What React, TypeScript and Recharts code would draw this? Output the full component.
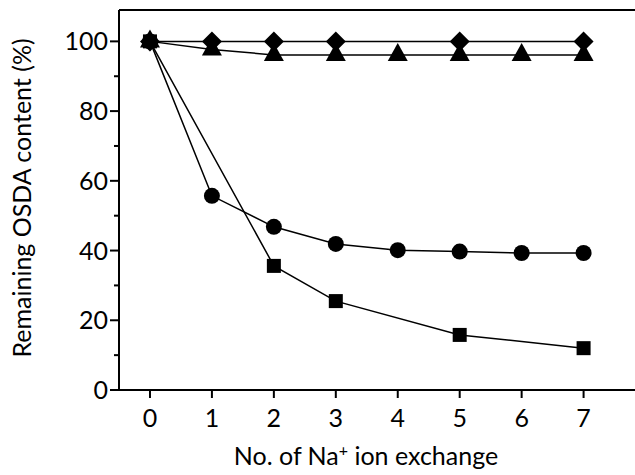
import { LineChart, Line, XAxis, YAxis, ReferenceLine } from "recharts";

const exchangeCounts = [0, 1, 2, 3, 4, 5, 6, 7];
const diamondSeries = [100, 100, 100, 100, null, 100, null, 100];
const triangleSeries = [100, 97.7, 96.1, 96.1, 96.1, 96.1, 96.1, 96.1];
const circleSeries = [100, 55.7, 46.8, 41.9, 40.1, 39.7, 39.3, 39.3];
const squareSeries = [100, null, 35.6, 25.5, null, 15.8, null, 12.0];
const yTicks = [0, 10, 20, 30, 40, 50, 60, 70, 80, 90, 100];
const xTicks = [0, 1, 2, 3, 4, 5, 6, 7];

const data = exchangeCounts.map((x, i) => ({
  x,
  diamond: diamondSeries[i],
  triangle: triangleSeries[i],
  circle: circleSeries[i],
  square: squareSeries[i],
}));

const FONT = "Lato, 'Open Sans', sans-serif";
const FONT_SIZE = 25;

type Shape = "diamond" | "triangle" | "circle" | "square";

function markerFor(shape: Shape) {
  return (props: any) => {
    const { cx, cy, index, value } = props;
    const key = `${shape}-${index}`;
    if (cx == null || cy == null || value == null) return <g key={key} />;
    if (shape === "circle") return <circle key={key} cx={cx} cy={cy} r={8} fill="#000" />;
    if (shape === "square")
      return <rect key={key} x={cx - 7} y={cy - 7} width={14} height={14} fill="#000" />;
    if (shape === "diamond")
      return (
        <polygon
          key={key}
          points={`${cx},${cy - 10} ${cx + 10},${cy} ${cx},${cy + 10} ${cx - 10},${cy}`}
          fill="#000"
        />
      );
    return (
      <polygon
        key={key}
        points={`${cx},${cy - 12} ${cx + 10},${cy + 6} ${cx - 10},${cy + 6}`}
        fill="#000"
      />
    );
  };
}

const YTick = (props: any) => {
  const { x, y, payload } = props;
  const major = payload.value % 20 === 0;
  return (
    <g key={`yt-${payload.value}`}>
      <line x1={x - (major ? 9 : 5)} x2={x} y1={y} y2={y} stroke="#000" strokeWidth={2} />
      {major && (
        <text
          x={x - 11}
          y={y + 9}
          textAnchor="end"
          fontFamily={FONT}
          fontSize={FONT_SIZE}
          fill="#000"
        >
          {payload.value}
        </text>
      )}
    </g>
  );
};

const XTick = (props: any) => {
  const { x, y, payload } = props;
  return (
    <g key={`xt-${payload.value}`}>
      <line x1={x} x2={x} y1={y} y2={y + 8} stroke="#000" strokeWidth={2} />
      <text
        x={x}
        y={y + 37}
        textAnchor="middle"
        fontFamily={FONT}
        fontSize={FONT_SIZE}
        fill="#000"
      >
        {payload.value}
      </text>
    </g>
  );
};

export default function App() {
  return (
    <div style={{ position: "absolute", left: 0, top: 0, background: "#fff" }}>
      <LineChart width={635} height={475} data={data} margin={{ top: 10, right: 0, bottom: 0, left: 0 }}>
        <XAxis
          dataKey="x"
          type="number"
          domain={[-0.5, 7.83]}
          allowDataOverflow
          ticks={xTicks}
          tick={XTick}
          tickLine={false}
          tickSize={0}
          tickMargin={0}
          height={85}
          axisLine={{ stroke: "#000", strokeWidth: 2 }}
          label={{
            content: () => (
              <text
                x={366}
                y={465}
                textAnchor="middle"
                fontFamily={FONT}
                fontSize={FONT_SIZE}
                fill="#000"
              >
                No. of Na
                <tspan dy={-9} fontSize={16}>+</tspan>
                <tspan dy={9}> ion exchange</tspan>
              </text>
            ),
          }}
        />
        <YAxis
          type="number"
          domain={[0, 109]}
          allowDataOverflow
          ticks={yTicks}
          interval={0}
          tick={YTick}
          tickLine={false}
          tickSize={0}
          tickMargin={0}
          width={119}
          axisLine={{ stroke: "#000", strokeWidth: 2 }}
          label={{
            content: () => (
              <text
                x={31}
                y={198}
                transform="rotate(-90 31 198)"
                textAnchor="middle"
                fontFamily={FONT}
                fontSize={FONT_SIZE}
                fill="#000"
              >
                Remaining OSDA content (%)
              </text>
            ),
          }}
        />
        <ReferenceLine y={109} stroke="#000" strokeWidth={2} ifOverflow="visible" />
        <Line
          dataKey="square"
          stroke="#000"
          strokeWidth={1.5}
          connectNulls
          dot={markerFor("square")}
          activeDot={false}
          isAnimationActive={false}
        />
        <Line
          dataKey="circle"
          stroke="#000"
          strokeWidth={1.5}
          connectNulls
          dot={markerFor("circle")}
          activeDot={false}
          isAnimationActive={false}
        />
        <Line
          dataKey="triangle"
          stroke="#000"
          strokeWidth={1.5}
          connectNulls
          dot={markerFor("triangle")}
          activeDot={false}
          isAnimationActive={false}
        />
        <Line
          dataKey="diamond"
          stroke="#000"
          strokeWidth={1.5}
          connectNulls
          dot={markerFor("diamond")}
          activeDot={false}
          isAnimationActive={false}
        />
      </LineChart>
    </div>
  );
}
